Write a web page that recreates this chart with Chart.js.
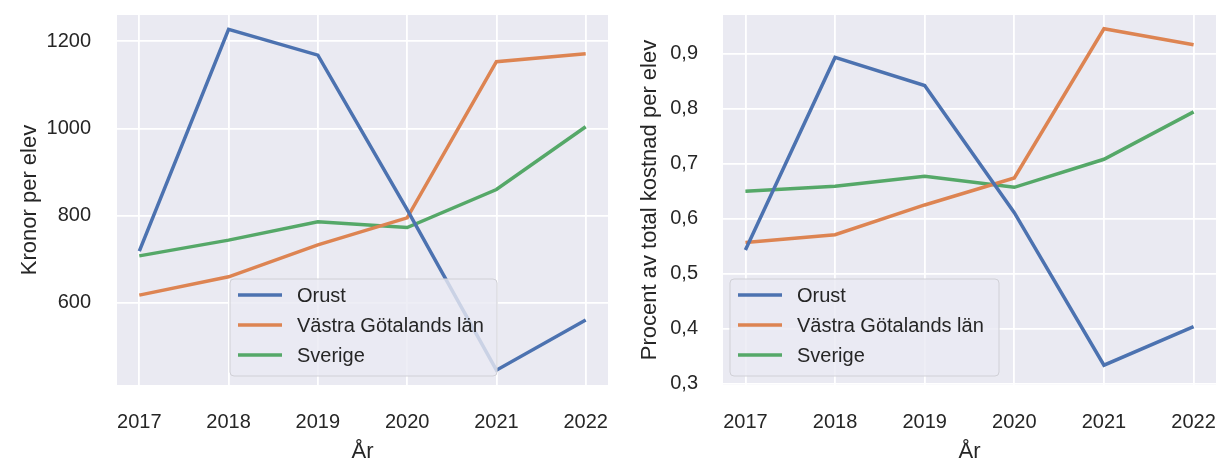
<!DOCTYPE html>
<html lang="sv">
<head>
<meta charset="UTF-8">
<title>Kronor per elev</title>
<script src="https://cdn.jsdelivr.net/npm/chart.js"></script>
<style>
body { margin: 0; background: #fff; }
.wrap { position: relative; width: 1219px; height: 461px; }
.panel { position: absolute; top: 0; height: 461px; }
#p1 { left: 0; width: 610px; }
#p2 { left: 610px; width: 609px; }
</style>
</head>
<body>
<div class="wrap">
  <div class="panel" id="p1"><canvas id="c1"></canvas></div>
  <div class="panel" id="p2"><canvas id="c2"></canvas></div>
</div>
<script>
// data
const years = [2017, 2018, 2019, 2020, 2021, 2022];
const seriesNames = ['Orust', 'Västra Götalands län', 'Sverige'];

const kronorOrust = [719, 1227, 1168, 814, 446, 561];
const kronorVG = [618, 660, 733, 795, 1153, 1171];
const kronorSverige = [708, 744, 786, 773, 860, 1004];

const procentOrust = [0.543, 0.893, 0.842, 0.611, 0.334, 0.404];
const procentVG = [0.557, 0.571, 0.625, 0.674, 0.945, 0.916];
const procentSverige = [0.650, 0.659, 0.677, 0.657, 0.708, 0.794];

const leftTicks = [600, 800, 1000, 1200];
const rightTicks = [0.3, 0.4, 0.5, 0.6, 0.7, 0.8, 0.9];

const colors = ['#4C72B0', '#DD8452', '#55A868'];
const FONT = '"Liberation Sans", Arial, sans-serif';

function toPoints(vals) {
    return vals.map((v, i) => ({ x: years[i], y: v }));
}

// grey panel behind the plot
const bgPlugin = {
    id: 'bg',
    beforeDraw(chart) {
        const a = chart.chartArea;
        const ctx = chart.ctx;
        ctx.save();
        ctx.fillStyle = '#EAEAF2';
        ctx.fillRect(a.left, a.top, a.right - a.left, a.bottom - a.top);
        ctx.restore();
    }
};

// matplotlib style legend inside the plot
const boxLegend = {
    id: 'boxLegend',
    afterDatasetsDraw(chart, args, opts) {
        const ctx = chart.ctx;
        const a = chart.chartArea;
        const x = a.left + opts.x, y = a.top + opts.y;
        const w = opts.w, h = 97;
        ctx.save();
        ctx.fillStyle = 'rgba(234,234,242,0.8)';
        ctx.strokeStyle = '#d0d0d6';
        ctx.lineWidth = 1;
        ctx.beginPath();
        ctx.roundRect(x, y, w, h, 4);
        ctx.fill();
        ctx.stroke();
        ctx.font = '20px ' + FONT;
        ctx.textBaseline = 'middle';
        chart.data.datasets.forEach((ds, i) => {
            const ry = y + 16 + i * 30;
            ctx.strokeStyle = ds.borderColor;
            ctx.lineWidth = 3.5;
            ctx.beginPath();
            ctx.moveTo(x + 8, ry);
            ctx.lineTo(x + 52, ry);
            ctx.stroke();
            ctx.fillStyle = '#262626';
            ctx.fillText(ds.label, x + 67, ry + 1);
        });
        ctx.restore();
    }
};

function noPad(s) {
    s.paddingTop = 0; s.paddingBottom = 0;
    s.paddingLeft = 0; s.paddingRight = 0;
}

function makeChart(id, series, yMin, yMax, ticks, yTitle, fmt, cfg) {
    return new Chart(document.getElementById(id), {
        type: 'line',
        data: {
            datasets: series.map((vals, i) => ({
                label: seriesNames[i],
                data: toPoints(vals),
                borderColor: colors[i],
                borderWidth: 3.5,
                pointRadius: 0,
                tension: 0
            }))
        },
        options: {
            responsive: true,
            maintainAspectRatio: false,
            animation: false,
            layout: { padding: { top: 15, right: cfg.right, left: 0, bottom: 0 } },
            plugins: {
                legend: { display: false },
                tooltip: { enabled: false },
                boxLegend: cfg.legend
            },
            scales: {
                x: {
                    type: 'linear',
                    min: 2016.75,
                    max: 2022.25,
                    afterBuildTicks(s) { s.ticks = years.map(v => ({ value: v })); },
                    afterFit(s) { s.height = 76; noPad(s); },
                    grid: { color: '#ffffff', lineWidth: 1.8, drawTicks: false },
                    border: { display: false },
                    ticks: {
                        color: '#262626',
                        font: { family: FONT, size: 20 },
                        padding: 25,
                        maxRotation: 0,
                        callback: v => String(v)
                    },
                    title: {
                        display: true,
                        text: 'År',
                        color: '#262626',
                        font: { family: FONT, size: 22 },
                        padding: { top: 0, bottom: -4 }
                    }
                },
                y: {
                    min: yMin,
                    max: yMax,
                    afterBuildTicks(s) { s.ticks = ticks.map(v => ({ value: v })); },
                    afterFit(s) { s.width = cfg.axisW; noPad(s); },
                    grid: { color: '#ffffff', lineWidth: 1.8, drawTicks: false },
                    border: { display: false },
                    ticks: {
                        color: '#262626',
                        font: { family: FONT, size: 20 },
                        padding: cfg.tickPad,
                        callback: fmt
                    },
                    title: {
                        display: true,
                        text: yTitle,
                        color: '#262626',
                        font: { family: FONT, size: 22 },
                        padding: { top: cfg.titlePad, bottom: 0 }
                    }
                }
            }
        },
        plugins: [bgPlugin, boxLegend]
    });
}

makeChart('c1', [kronorOrust, kronorVG, kronorSverige], 412, 1260, leftTicks,
    'Kronor per elev', v => String(v),
    { right: 2, axisW: 117, tickPad: 26, titlePad: 17, legend: { x: 113, y: 264, w: 267 } });

makeChart('c2', [procentOrust, procentVG, procentSverige], 0.298, 0.970, rightTicks,
    'Procent av total kostnad per elev', v => v.toFixed(1).replace('.', ','),
    { right: 3, axisW: 113, tickPad: 25, titlePad: 27, legend: { x: 7, y: 264, w: 269 } });
</script>
</body>
</html>
